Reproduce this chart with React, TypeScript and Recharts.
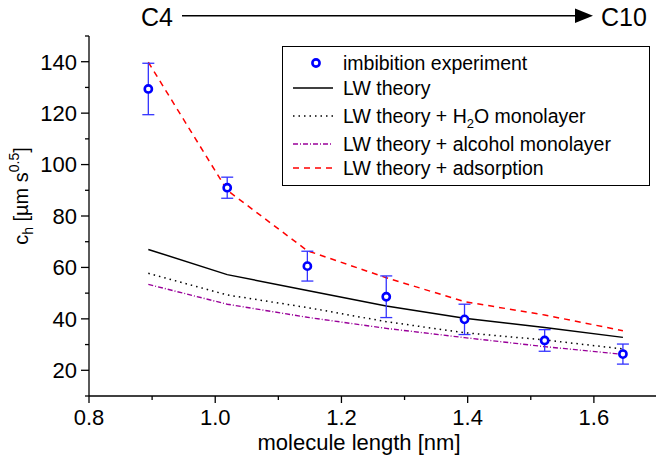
import React from 'react';
import { ComposedChart, Line, Scatter, ErrorBar, XAxis, YAxis } from 'recharts';

// molecule length [nm] of the C4 ... C10 alcohols
const lengths = [0.894, 1.019, 1.146, 1.271, 1.395, 1.522, 1.646];
const experiment = [129.4, 91.0, 60.5, 48.6, 39.8, 31.6, 26.3];
const expError = [10.0, 4.1, 5.8, 8.1, 5.9, 4.2, 3.9];
const lwTheory = [67.0, 57.2, 51.0, 45.0, 40.2, 36.6, 32.8];
const lwH2O = [57.7, 49.3, 44.4, 38.9, 34.6, 31.8, 28.3];
const lwAlcohol = [53.4, 45.7, 40.6, 36.3, 32.7, 29.2, 26.2];
const lwAdsorption = [139.8, 90.0, 66.5, 56.0, 46.7, 41.5, 35.4];

const xTicks = [0.8, 0.9, 1.0, 1.1, 1.2, 1.3, 1.4, 1.5, 1.6, 1.7];
const yTicks = [10, 20, 30, 40, 50, 60, 70, 80, 90, 100, 110, 120, 130, 140, 150];

const FONT = '"Liberation Sans", Arial, sans-serif';

const data = lengths.map((x, i) => ({
  x,
  exp: experiment[i],
  err: expError[i],
  lw: lwTheory[i],
  h2o: lwH2O[i],
  alc: lwAlcohol[i],
  ads: lwAdsorption[i],
}));

const isMajorX = (v: number) => Math.round(v * 10) % 2 === 0 && v < 1.65;
const isMajorY = (v: number) => v % 20 === 0 && v >= 20 && v <= 140;

const BottomTick = (props: any) => {
  const { x, y, payload } = props;
  const major = isMajorX(payload.value);
  return (
    <g>
      <line x1={x} x2={x} y1={y} y2={y + (major ? 7 : 4)} stroke="#000" strokeWidth={1.3} />
      {major && (
        <text x={x} y={y + 29} textAnchor="middle" fontSize={22} fontFamily={FONT} fill="#000">
          {payload.value.toFixed(1)}
        </text>
      )}
    </g>
  );
};

const TopTick = (props: any) => {
  const { x, y, payload } = props;
  const major = isMajorX(payload.value);
  return <line x1={x} x2={x} y1={y} y2={y + (major ? 7 : 4)} stroke="#000" strokeWidth={1.3} />;
};

const LeftTick = (props: any) => {
  const { x, y, payload } = props;
  const major = isMajorY(payload.value);
  return (
    <g>
      <line x1={x - (major ? 8 : 4)} x2={x} y1={y} y2={y} stroke="#000" strokeWidth={1.3} />
      {major && (
        <text x={x - 12} y={y} dy="0.36em" textAnchor="end" fontSize={22} fontFamily={FONT} fill="#000">
          {payload.value}
        </text>
      )}
    </g>
  );
};

const RightTick = (props: any) => {
  const { x, y, payload } = props;
  const major = isMajorY(payload.value);
  return <line x1={x - (major ? 8 : 4)} x2={x} y1={y} y2={y} stroke="#000" strokeWidth={1.3} />;
};

const XTitle = () => (
  <text x={359} y={450} textAnchor="middle" fontSize={22} fontFamily={FONT} fill="#000">
    molecule length [nm]
  </text>
);

const YTitle = () => (
  <text
    transform="translate(28,196) rotate(-90)"
    textAnchor="middle"
    fontSize={20}
    fontFamily={FONT}
    fill="#000"
  >
    c<tspan fontSize={14} dy={5}>h</tspan>
    <tspan dy={-5}> [µm s</tspan>
    <tspan fontSize={14} dy={-9}>0.5</tspan>
    <tspan dy={9}>]</tspan>
  </text>
);

const Point = (props: any) => {
  const { cx, cy } = props;
  return <circle cx={cx} cy={cy} r={3.6} fill="#fff" stroke="#0000ff" strokeWidth={2.6} />;
};

const legendRows = [
  { top: 63, kind: 'point', label: <>imbibition experiment</> },
  { top: 88, kind: 'line', color: '#000', dash: undefined, label: <>LW theory</> },
  {
    top: 116,
    kind: 'line',
    color: '#000',
    dash: '1.5 4',
    label: (
      <>
        LW theory + H<sub style={{ fontSize: 13, verticalAlign: -5 }}>2</sub>O monolayer
      </>
    ),
  },
  { top: 144, kind: 'line', color: '#990099', dash: '5 2 1 2', label: <>LW theory + alcohol monolayer</> },
  { top: 168, kind: 'line', color: '#ff0000', dash: '6 5', label: <>LW theory + adsorption</> },
];

function ChartLegend() {
  return (
    <div
      style={{
        position: 'absolute',
        left: 282,
        top: 46,
        width: 366,
        height: 138,
        border: '1.3px solid #000',
        background: '#fff',
        fontFamily: FONT,
        fontSize: 19.5,
        color: '#000',
      }}
    >
      {legendRows.map((r, i) => (
        <div key={i} style={{ position: 'absolute', left: 0, top: r.top - 47 - 13, height: 26, width: 366 }}>
          <svg width={56} height={26} style={{ position: 'absolute', left: 0, top: 0 }}>
            {r.kind === 'point' ? (
              <circle cx={33} cy={13} r={3.6} fill="#fff" stroke="#0000ff" strokeWidth={2.6} />
            ) : (
              <line x1={10} x2={50} y1={13} y2={13} stroke={r.color} strokeWidth={1.5} strokeDasharray={r.dash} />
            )}
          </svg>
          <span style={{ position: 'absolute', left: 60, top: 0, lineHeight: '26px', whiteSpace: 'nowrap' }}>{r.label}</span>
        </div>
      ))}
    </div>
  );
}

function Header() {
  return (
    <svg width={656} height={34} style={{ position: 'absolute', left: 0, top: 0 }}>
      <text x={141} y={26} fontSize={25} fontFamily={FONT} fill="#000">C4</text>
      <line x1={182} x2={577} y1={15.7} y2={15.7} stroke="#000" strokeWidth={1.5} />
      <polygon points="575,8.5 593,15.7 575,23" fill="#000" />
      <text x={601} y={26} fontSize={25} fontFamily={FONT} fill="#000">C10</text>
    </svg>
  );
}

export default function App() {
  return (
    <div style={{ position: 'absolute', left: 0, top: 0, width: 656, height: 461, overflow: 'hidden', background: '#fff' }}>
      <ComposedChart width={680} height={461} data={data} margin={{ top: 36, right: 23, bottom: 0, left: 0 }}>
        <XAxis
          dataKey="x"
          type="number"
          domain={[0.8, 1.7]}
          ticks={xTicks}
          interval={0}
          height={65}
          tickSize={0}
          tickMargin={0}
          tickLine={false}
          tick={<BottomTick />}
          axisLine={{ stroke: '#000', strokeWidth: 1.3 }}
          label={<XTitle />}
        />
        <XAxis
          xAxisId="top"
          orientation="top"
          dataKey="x"
          type="number"
          domain={[0.8, 1.7]}
          ticks={xTicks}
          interval={0}
          height={0}
          mirror
          tickSize={0}
          tickMargin={0}
          tickLine={false}
          tick={<TopTick />}
          axisLine={{ stroke: '#000', strokeWidth: 1.3 }}
        />
        <YAxis
          type="number"
          domain={[10, 150]}
          ticks={yTicks}
          interval={0}
          width={89}
          tickSize={0}
          tickMargin={0}
          tickLine={false}
          tick={<LeftTick />}
          axisLine={{ stroke: '#000', strokeWidth: 1.3 }}
          label={<YTitle />}
        />
        <YAxis
          yAxisId="right"
          orientation="right"
          type="number"
          domain={[10, 150]}
          ticks={yTicks}
          interval={0}
          width={0}
          mirror
          tickSize={0}
          tickMargin={0}
          tickLine={false}
          tick={<RightTick />}
          axisLine={{ stroke: '#000', strokeWidth: 1.3 }}
        />
        <Line dataKey="lw" stroke="#000" strokeWidth={1.5} dot={false} activeDot={false} isAnimationActive={false} />
        <Line dataKey="h2o" stroke="#000" strokeWidth={1.5} strokeDasharray="1.5 4" dot={false} activeDot={false} isAnimationActive={false} />
        <Line dataKey="alc" stroke="#990099" strokeWidth={1.4} strokeDasharray="5 2 1 2" dot={false} activeDot={false} isAnimationActive={false} />
        <Line dataKey="ads" stroke="#ff0000" strokeWidth={1.5} strokeDasharray="6 5" dot={false} activeDot={false} isAnimationActive={false} />
        <Scatter dataKey="exp" shape={<Point />} isAnimationActive={false}>
          <ErrorBar dataKey="err" direction="y" width={6} stroke="#3333ff" strokeWidth={1.3} />
        </Scatter>
      </ComposedChart>
      <Header />
      <ChartLegend />
    </div>
  );
}
